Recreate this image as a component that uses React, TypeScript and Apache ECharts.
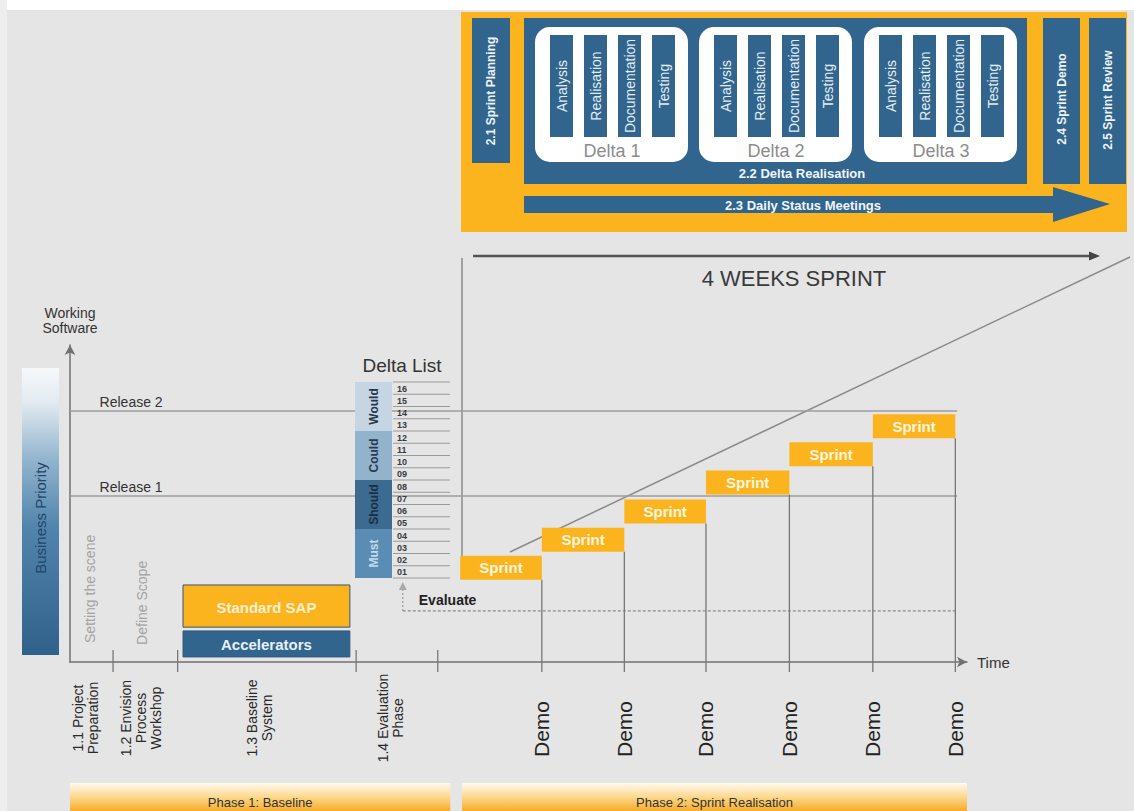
import React, { useEffect, useRef } from "react";
import * as echarts from "echarts";

// ---------------- data ----------------
const sprintLabels = ["Sprint", "Sprint", "Sprint", "Sprint", "Sprint", "Sprint"];
const sprintStart = [43.5, 52.6, 61.8, 70.9, 80.2, 89.5];
const sprintEnd = [52.6, 61.8, 70.9, 80.2, 89.5, 98.7];
const sprintLevel = [29.7, 38.6, 47.5, 56.6, 65.5, 74.4];
const demoLabels = ["Demo", "Demo", "Demo", "Demo", "Demo", "Demo"];
const demoTimes = [52.6, 61.8, 70.9, 80.2, 89.5, 98.7];
const phaseTicks = [4.8, 12.0, 31.9, 41.0];
const phaseStepLabels = [
  "1.1 Project\nPreparation",
  "1.2 Envision\nProcess\nWorkshop",
  "1.3 Baseline\nSystem",
  "1.4 Evaluation\nPhase",
];
const phaseStepAt = [1.7, 7.9, 21.1, 35.7];
const releaseLabels = ["Release 1", "Release 2"];
const releaseLevels = [52.4, 79.2];
const releaseLabelAt = 3.3;
const timelineEnd = 98.9;
const evaluateLabel = "Evaluate";
const evaluateFrom = 37.1;
const evaluateLevel = 16.1;
const baselineBlocks = ["Standard SAP", "Accelerators"];
const baselineFrom = [12.6, 12.6];
const baselineTo = [31.2, 31.2];
const baselineTop = [24.3, 9.8];
const baselineBottom = [11.0, 1.6];
const scopeNotes = ["Setting the scene", "Define Scope"];
const scopeNoteAt = [2.2, 8.0];
const scopeNoteBase = [6.0, 5.4];
const phaseNames = ["Phase 1: Baseline", "Phase 2: Sprint Realisation"];
const phaseFrom = [0, 43.7];
const phaseTo = [42.4, 100];
const deltaNumbers = ["01", "02", "03", "04", "05", "06", "07", "08", "09", "10", "11", "12", "13", "14", "15", "16"];
const priorityNames = ["Must", "Should", "Could", "Would"];
const priorityFirst = [0, 4, 8, 12];
const priorityLast = [3, 7, 11, 15];
const deltaBoxes = ["Delta 1", "Delta 2", "Delta 3"];
const deltaTasks = ["Analysis", "Realisation", "Documentation", "Testing"];

// ---------------- styles ----------------
const SANS = "'Liberation Sans', Arial, Helvetica, sans-serif";
const ORANGE = "#fbb41d";
const BLUE = "#31658e";
const priorityFill = ["#5b8cb4", "#3d6a90", "#93b2cc", "#c6d5e3"];
const priorityText = ["#c3dbec", "#1b2f44", "#263c52", "#26384a"];

function txt(text: string, x: number, y: number, font: string, fill: string, align = "center", rot = 0, lineHeight?: number) {
  const el: any = {
    type: "text",
    x,
    y,
    rotation: rot,
    style: {
      text,
      x: 0,
      y: 0,
      font,
      fill,
      align,
      textAlign: align,
      verticalAlign: "middle",
      textVerticalAlign: "middle",
    },
  };
  if (lineHeight) el.style.lineHeight = lineHeight;
  return el;
}

function rectEl(x: number, y: number, w: number, h: number, fill: any, r = 0) {
  return { type: "rect", shape: { x, y, width: w, height: h, r }, style: { fill } };
}

function buildGraphic() {
  const els: any[] = [];
  const V = Math.PI / 2;
  els.push(rectEl(0, 0, 1134, 10, "#ffffff"));
  els.push(rectEl(0, 0, 7, 811, "#eeeeee"));
  // top orange process box
  els.push(rectEl(461, 12, 666, 220, ORANGE));
  els.push(rectEl(472, 18, 38, 145, BLUE));
  els.push(txt("2.1 Sprint Planning", 491, 91, `bold 12px ${SANS}`, "#eef3f7", "center", V));
  els.push(rectEl(524, 18, 503, 166, BLUE));
  const boxX = [535, 699, 864];
  const barOff = [15, 49, 83, 117];
  deltaBoxes.forEach((name, b) => {
    const x0 = boxX[b];
    els.push(rectEl(x0, 27, 153, 135, "#ffffff", 15));
    deltaTasks.forEach((t, k) => {
      els.push(rectEl(x0 + barOff[k], 35, 23, 102, BLUE));
      els.push(txt(t, x0 + barOff[k] + 11.5, 86, `14px ${SANS}`, "#e3ecf3", "center", V));
    });
    els.push(txt(name, x0 + 77, 151, `18px ${SANS}`, "#8c8c8c"));
  });
  els.push(txt("2.2 Delta Realisation", 802, 173, `bold 13px ${SANS}`, "#f2f6f9"));
  els.push(rectEl(1043, 18, 37, 166, BLUE));
  els.push(txt("2.4 Sprint Demo", 1061.5, 99, `bold 12px ${SANS}`, "#eef3f7", "center", V));
  els.push(rectEl(1089, 18, 37, 166, BLUE));
  els.push(txt("2.5 Sprint Review", 1107.5, 100, `bold 12px ${SANS}`, "#eef3f7", "center", V));
  els.push({
    type: "polygon",
    shape: { points: [[524, 196], [1053, 196], [1053, 187], [1110, 204], [1053, 222], [1053, 213], [524, 213]] },
    style: { fill: BLUE },
  });
  els.push(txt("2.3 Daily Status Meetings", 803, 205, `bold 13px ${SANS}`, "#f2f6f9"));
  // 4 weeks sprint arrow + funnel
  els.push({ type: "line", shape: { x1: 473, y1: 256, x2: 1091, y2: 256 }, style: { stroke: "#555", lineWidth: 2.5 } });
  els.push({ type: "polygon", shape: { points: [[1089, 251.5], [1100, 256], [1089, 260.5]] }, style: { fill: "#444" } });
  els.push(txt("4 WEEKS SPRINT", 794, 278, `22px ${SANS}`, "#3a3a3a"));
  els.push({ type: "line", shape: { x1: 462, y1: 258, x2: 462, y2: 556 }, style: { stroke: "#8a8a8a", lineWidth: 1.5 } });
  els.push({ type: "line", shape: { x1: 510, y1: 552, x2: 1130, y2: 257 }, style: { stroke: "#8a8a8a", lineWidth: 1.5 } });
  // business priority bar
  els.push({
    type: "rect",
    shape: { x: 22, y: 368, width: 37, height: 287 },
    style: {
      fill: new echarts.graphic.LinearGradient(0, 0, 0, 1, [
        { offset: 0, color: "#f6f8fa" },
        { offset: 0.12, color: "#e2eaf1" },
        { offset: 0.32, color: "#92b4ce" },
        { offset: 0.55, color: "#5285ad" },
        { offset: 1, color: "#2f618a" },
      ]),
    },
  });
  els.push(txt("Business Priority", 40, 518, `15px ${SANS}`, "#22456a", "center", V));
  // delta list title
  els.push(txt("Delta List", 402, 365, `19px ${SANS}`, "#333333"));
  return els;
}

function buildOption() {
  const axisLineStyle = { color: "#707070", width: 1.5 };
  return {
    animation: false,
    backgroundColor: "#e5e5e5",
    grid: [
      { left: 70, top: 345, width: 897, height: 317 },
      { left: 355, top: 382, width: 95, height: 196 },
    ],
    xAxis: [
      {
        gridIndex: 0,
        type: "value",
        min: 0,
        max: 100,
        axisLine: { show: true, lineStyle: axisLineStyle, symbol: ["none", "arrow"], symbolSize: [8, 10] },
        axisTick: { show: false },
        axisLabel: { show: false },
        splitLine: { show: false },
        name: "Time",
        nameLocation: "end",
        nameGap: 10,
        nameTextStyle: { color: "#333", fontSize: 15, fontFamily: SANS },
      },
      { gridIndex: 1, type: "value", min: 0, max: 95, show: false },
    ],
    yAxis: [
      {
        gridIndex: 0,
        type: "value",
        min: 0,
        max: 100,
        axisLine: { show: true, lineStyle: axisLineStyle, symbol: ["none", "arrow"], symbolSize: [8, 10] },
        axisTick: { show: false },
        axisLabel: { show: false },
        splitLine: { show: false },
        name: "Working\nSoftware",
        nameLocation: "end",
        nameGap: 10,
        nameTextStyle: { color: "#333", fontSize: 14, lineHeight: 15, fontFamily: SANS, align: "center" },
      },
      { gridIndex: 1, type: "category", data: deltaNumbers, show: false },
    ],
    graphic: { elements: buildGraphic() },
    series: [
      // release lines
      {
        type: "custom",
        clip: false,
        silent: true,
        data: releaseLevels.map((v) => [0, v]),
        renderItem: (params: any, api: any) => {
          const i = params.dataIndex;
          const v = api.value(1);
          const a = api.coord([0, v]);
          const b = api.coord([timelineEnd, v]);
          const l = api.coord([releaseLabelAt, v]);
          return {
            type: "group",
            children: [
              { type: "line", shape: { x1: a[0], y1: a[1], x2: b[0], y2: b[1] }, style: { stroke: "#9c9c9c", lineWidth: 1.5 } },
              txt(releaseLabels[i], l[0], l[1] - 9, `14px ${SANS}`, "#333", "left"),
            ],
          };
        },
      },
      // evaluate
      {
        type: "custom",
        clip: false,
        silent: true,
        data: [[evaluateFrom, evaluateLevel]],
        renderItem: (params: any, api: any) => {
          const a = api.coord([api.value(0), api.value(1)]);
          const b = api.coord([timelineEnd, api.value(1)]);
          return {
            type: "group",
            children: [
              { type: "line", shape: { x1: a[0], y1: a[1], x2: b[0], y2: b[1] }, style: { stroke: "#8c8c8c", lineWidth: 1.2, lineDash: [3, 2] } },
              { type: "line", shape: { x1: a[0], y1: a[1], x2: a[0], y2: a[1] - 22 }, style: { stroke: "#999", lineWidth: 1.2, lineDash: [2, 2] } },
              { type: "polygon", shape: { points: [[a[0] - 4, a[1] - 21], [a[0], a[1] - 29], [a[0] + 4, a[1] - 21]] }, style: { fill: "#aaa" } },
              txt(evaluateLabel, a[0] + 16, a[1] - 11, `bold 14px ${SANS}`, "#222", "left"),
            ],
          };
        },
      },
      // baseline blocks
      {
        type: "custom",
        clip: false,
        silent: true,
        data: baselineBlocks.map((n, i) => [baselineFrom[i], baselineTo[i], baselineTop[i], baselineBottom[i]]),
        renderItem: (params: any, api: any) => {
          const i = params.dataIndex;
          const tl = api.coord([api.value(0), api.value(2)]);
          const br = api.coord([api.value(1), api.value(3)]);
          return {
            type: "group",
            children: [
              {
                type: "rect",
                shape: { x: tl[0], y: tl[1], width: br[0] - tl[0], height: br[1] - tl[1] },
                style: { fill: i === 0 ? ORANGE : BLUE, stroke: "#34567a", lineWidth: 1 },
              },
              txt(baselineBlocks[i], (tl[0] + br[0]) / 2, (tl[1] + br[1]) / 2 + 1, `bold 15px ${SANS}`, i === 0 ? "#fdf0d2" : "#e8f0f6"),
            ],
          };
        },
      },
      // scope notes
      {
        type: "custom",
        clip: false,
        silent: true,
        data: scopeNotes.map((n, i) => [scopeNoteAt[i], scopeNoteBase[i]]),
        renderItem: (params: any, api: any) => {
          const p = api.coord([api.value(0), api.value(1)]);
          return txt(scopeNotes[params.dataIndex], p[0], p[1], `14px ${SANS}`, "#a3a3a3", "left", Math.PI / 2);
        },
      },
      // phase ticks
      {
        type: "custom",
        clip: false,
        silent: true,
        data: phaseTicks.map((t) => [t, 0]),
        renderItem: (params: any, api: any) => {
          const p = api.coord([api.value(0), 0]);
          return { type: "line", shape: { x1: p[0], y1: p[1] - 12, x2: p[0], y2: p[1] + 10 }, style: { stroke: "#777", lineWidth: 1.3 } };
        },
      },
      // phase step labels
      {
        type: "custom",
        clip: false,
        silent: true,
        data: phaseStepAt.map((t) => [t, 0]),
        renderItem: (params: any, api: any) => {
          const p = api.coord([api.value(0), 0]);
          return txt(phaseStepLabels[params.dataIndex], p[0], p[1] + 56, `14px ${SANS}`, "#2a2a2a", "center", Math.PI / 2, 15);
        },
      },
      // demo lines + labels
      {
        type: "custom",
        clip: false,
        silent: true,
        data: demoTimes.map((t, i) => [t, sprintLevel[i]]),
        renderItem: (params: any, api: any) => {
          const top = api.coord([api.value(0), api.value(1)]);
          const base = api.coord([api.value(0), 0]);
          return {
            type: "group",
            children: [
              { type: "line", shape: { x1: top[0], y1: top[1] + 12, x2: base[0], y2: base[1] + 10 }, style: { stroke: "#777", lineWidth: 1.3 } },
              txt(demoLabels[params.dataIndex], base[0], base[1] + 67, `21px ${SANS}`, "#222", "center", Math.PI / 2),
            ],
          };
        },
      },
      // sprints
      {
        type: "custom",
        clip: false,
        silent: true,
        z: 3,
        data: sprintStart.map((s, i) => [s, sprintEnd[i], sprintLevel[i]]),
        renderItem: (params: any, api: any) => {
          const s = api.coord([api.value(0), api.value(2)]);
          const e = api.coord([api.value(1), api.value(2)]);
          const h = 24;
          return {
            type: "group",
            children: [
              { type: "rect", shape: { x: s[0], y: s[1] - h / 2, width: e[0] - s[0], height: h }, style: { fill: ORANGE } },
              txt(sprintLabels[params.dataIndex], (s[0] + e[0]) / 2, s[1], `bold 15px ${SANS}`, "#fff6df"),
            ],
          };
        },
      },
      // phase bars
      {
        type: "custom",
        clip: false,
        silent: true,
        data: phaseNames.map((n, i) => [phaseFrom[i], phaseTo[i]]),
        renderItem: (params: any, api: any) => {
          const a = api.coord([api.value(0), 0]);
          const b = api.coord([api.value(1), 0]);
          return {
            type: "group",
            children: [
              {
                type: "rect",
                shape: { x: a[0], y: a[1] + 121, width: b[0] - a[0], height: 28 },
                style: {
                  fill: new echarts.graphic.LinearGradient(0, 0, 0, 1, [
                    { offset: 0, color: "#fffaf0" },
                    { offset: 0.45, color: "#fcdc98" },
                    { offset: 1, color: "#f6ad2a" },
                  ]),
                },
              },
              txt(phaseNames[params.dataIndex], (a[0] + b[0]) / 2, a[1] + 140, `13px ${SANS}`, "#333"),
            ],
          };
        },
      },
      // delta list rows
      {
        type: "custom",
        xAxisIndex: 1,
        yAxisIndex: 1,
        clip: false,
        silent: true,
        data: deltaNumbers.map((n, i) => [0, i]),
        renderItem: (params: any, api: any) => {
          const i = params.dataIndex;
          const c = api.coord([0, api.value(1)]);
          const band = api.size([0, 1])[1];
          const x0 = api.coord([38, 0])[0];
          const x1 = api.coord([95, 0])[0];
          const xn = api.coord([42, 0])[0];
          const children: any[] = [
            { type: "line", shape: { x1: x0, y1: c[1] - band / 2, x2: x1, y2: c[1] - band / 2 }, style: { stroke: "#9a9a9a", lineWidth: 1 } },
            txt(deltaNumbers[i], xn, c[1] + 0.5, `bold 9px ${SANS}`, "#3a3a3a", "left"),
          ];
          if (i === 0) {
            children.push({ type: "line", shape: { x1: x0, y1: c[1] + band / 2, x2: x1, y2: c[1] + band / 2 }, style: { stroke: "#9a9a9a", lineWidth: 1 } });
          }
          return { type: "group", children };
        },
      },
      // priority column
      {
        type: "custom",
        xAxisIndex: 1,
        yAxisIndex: 1,
        clip: false,
        silent: true,
        data: priorityNames.map((n, k) => [priorityFirst[k], priorityLast[k]]),
        renderItem: (params: any, api: any) => {
          const k = params.dataIndex;
          const band = api.size([0, 1])[1];
          const lo = api.coord([0, api.value(0)]);
          const hi = api.coord([0, api.value(1)]);
          const xr = api.coord([37, 0])[0];
          const y0 = hi[1] - band / 2;
          const y1 = lo[1] + band / 2;
          return {
            type: "group",
            children: [
              { type: "rect", shape: { x: lo[0], y: y0, width: xr - lo[0], height: y1 - y0 }, style: { fill: priorityFill[k] } },
              txt(priorityNames[k], (lo[0] + xr) / 2, (y0 + y1) / 2, `bold 12px ${SANS}`, priorityText[k], "center", Math.PI / 2),
            ],
          };
        },
      },
    ],
  };
}

export default function App() {
  const ref = useRef<HTMLDivElement>(null);
  useEffect(() => {
    const chart = echarts.init(ref.current as HTMLDivElement, undefined, { renderer: "svg" });
    chart.setOption(buildOption() as any);
    return () => chart.dispose();
  }, []);
  return <div ref={ref} style={{ position: "absolute", left: 0, top: 0, width: 1134, height: 811 }} />;
}
